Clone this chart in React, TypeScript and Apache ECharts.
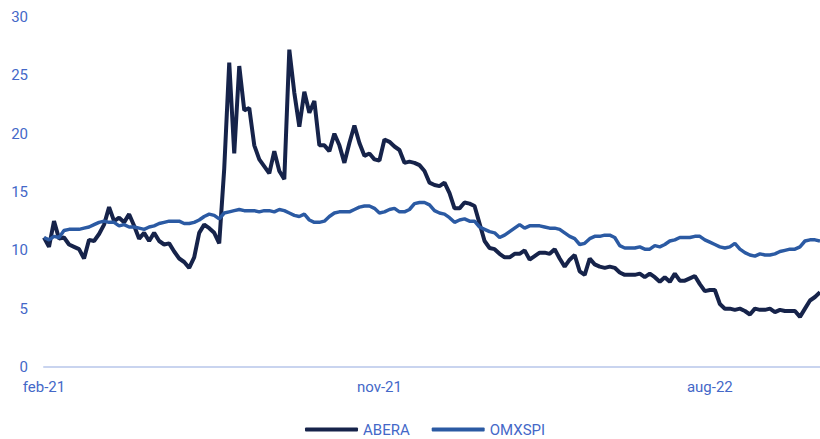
import React, { useEffect, useRef } from "react";
import * as echarts from "echarts";

// Price series sampled every ~4 calendar days from 1 Feb 2021
const ABERA = [
  11.1, 10.3, 12.5, 11.0, 11.1, 10.5, 10.3, 10.1, 9.3, 10.9,
  10.8, 11.4, 12.2, 13.7, 12.5, 12.8, 12.4, 13.1, 12.1, 11.0,
  11.5, 10.8, 11.5, 10.8, 10.5, 10.6, 9.9, 9.3, 9.0, 8.5,
  9.4, 11.5, 12.2, 11.9, 11.5, 10.6, 17.0, 26.1, 18.3, 25.8,
  22.0, 22.2, 19.0, 17.8, 17.2, 16.6, 18.5, 16.8, 16.1, 27.2,
  23.5, 20.6, 23.6, 21.8, 22.8, 19.0, 19.0, 18.5, 20.0, 19.0,
  17.5, 19.2, 20.7, 19.2, 18.1, 18.3, 17.8, 17.7, 19.5, 19.3,
  18.9, 18.6, 17.5, 17.6, 17.5, 17.3, 16.8, 15.8, 15.6, 15.5,
  15.8, 14.9, 13.6, 13.6, 14.1, 14.0, 13.8, 12.3, 10.8, 10.2,
  10.1, 9.7, 9.4, 9.4, 9.7, 9.7, 10.0, 9.2, 9.5, 9.8,
  9.8, 9.7, 10.1, 9.3, 8.6, 9.2, 9.6, 8.2, 7.9, 9.3,
  8.8, 8.6, 8.5, 8.6, 8.5, 8.1, 7.9, 7.9, 7.9, 8.0,
  7.7, 8.0, 7.7, 7.3, 7.7, 7.3, 8.0, 7.4, 7.4, 7.6,
  7.8, 7.1, 6.5, 6.6, 6.6, 5.4, 5.0, 5.0, 4.9, 5.0,
  4.8, 4.5, 5.0, 4.9, 4.9, 5.0, 4.7, 4.9, 4.8, 4.8,
  4.8, 4.3, 5.0, 5.7, 6.0, 6.4,
];

const OMXSPI = [
  11.1, 10.9, 11.2, 11.1, 11.7, 11.8, 11.8, 11.8, 11.9, 12.0,
  12.2, 12.4, 12.5, 12.4, 12.4, 12.1, 12.2, 12.0, 12.0, 11.9,
  11.8, 12.0, 12.1, 12.3, 12.4, 12.5, 12.5, 12.5, 12.3, 12.3,
  12.4, 12.6, 12.9, 13.1, 13.0, 12.7, 13.2, 13.3, 13.4, 13.5,
  13.4, 13.4, 13.4, 13.3, 13.4, 13.4, 13.3, 13.5, 13.4, 13.2,
  13.0, 12.9, 13.1, 12.6, 12.4, 12.4, 12.5, 12.9, 13.2, 13.3,
  13.3, 13.3, 13.5, 13.7, 13.8, 13.8, 13.6, 13.2, 13.3, 13.5,
  13.6, 13.3, 13.3, 13.5, 14.0, 14.1, 14.1, 13.9, 13.4, 13.2,
  13.1, 12.8, 12.4, 12.6, 12.7, 12.5, 12.5, 12.0, 11.8, 11.6,
  11.5, 11.1, 11.3, 11.6, 11.9, 12.2, 11.9, 12.1, 12.1, 12.1,
  12.0, 11.9, 11.9, 11.8, 11.5, 11.2, 11.0, 10.5, 10.6, 11.0,
  11.2, 11.2, 11.3, 11.3, 11.1, 10.4, 10.2, 10.2, 10.2, 10.3,
  10.1, 10.1, 10.4, 10.3, 10.5, 10.8, 10.9, 11.1, 11.1, 11.1,
  11.2, 11.2, 10.9, 10.7, 10.5, 10.3, 10.2, 10.3, 10.6, 10.1,
  9.8, 9.6, 9.5, 9.7, 9.6, 9.6, 9.7, 9.9, 10.0, 10.1,
  10.1, 10.3, 10.8, 10.9, 10.9, 10.8,
];

const SERIES_NAMES = ["ABERA", "OMXSPI"];
const MONTH_NAMES = ["jan", "feb", "mar", "apr", "maj", "jun", "jul", "aug", "sep", "okt", "nov", "dec"];
const LABELED_MONTHS = ["2021-02", "2021-11", "2022-08"];
const START_DATE = Date.UTC(2021, 1, 1);
const STEP_DAYS = 4.12;

const DAY = 86400000;
const dates: string[] = ABERA.map((_, i) =>
  new Date(START_DATE + Math.round(i * STEP_DAYS) * DAY).toISOString().slice(0, 10)
);
const monthKey = (d: string) => d.slice(0, 7);

const TEXT = "#4468c8";
const FONT = "Roboto, 'Noto Sans', sans-serif";

export default function App() {
  const ref = useRef<HTMLDivElement>(null);

  useEffect(() => {
    if (!ref.current) return;
    const chart = echarts.init(ref.current, undefined, { renderer: "svg" });
    chart.setOption({
      animation: false,
      textStyle: { fontFamily: FONT },
      grid: { left: 44, right: 0, top: 17, bottom: 72, containLabel: false },
      legend: {
        data: SERIES_NAMES,
        left: 305,
        top: 422,
        padding: 0,
        icon: "roundRect",
        itemWidth: 53,
        itemHeight: 4,
        itemGap: 22,
        textStyle: { color: TEXT, fontSize: 15, fontFamily: FONT },
      },
      xAxis: {
        type: "category",
        data: dates,
        boundaryGap: false,
        axisLine: { lineStyle: { color: "#c9d4ef", width: 2 } },
        axisTick: { show: false },
        splitLine: { show: false },
        axisLabel: {
          color: TEXT,
          fontSize: 15,
          fontFamily: FONT,
          margin: 12,
          interval: (index: number, value: string) =>
            LABELED_MONTHS.includes(monthKey(value)) &&
            (index === 0 || monthKey(dates[index - 1]) !== monthKey(value)),
          formatter: (value: string) =>
            `${MONTH_NAMES[Number(value.slice(5, 7)) - 1]}-${value.slice(2, 4)}`,
        },
      },
      yAxis: {
        type: "value",
        min: 0,
        max: 30,
        interval: 5,
        axisLine: { show: false },
        axisTick: { show: false },
        splitLine: { show: false },
        axisLabel: { color: TEXT, fontSize: 15, fontFamily: FONT, margin: 16 },
      },
      series: [
        {
          name: SERIES_NAMES[0],
          type: "line",
          data: ABERA,
          symbol: "none",
          color: "#16234a",
          lineStyle: { width: 4, color: "#16234a" },
        },
        {
          name: SERIES_NAMES[1],
          type: "line",
          data: OMXSPI,
          symbol: "none",
          color: "#2b5aa3",
          lineStyle: { width: 3.5, color: "#2b5aa3" },
        },
      ],
    });
    return () => chart.dispose();
  }, []);

  return (
    <div
      ref={ref}
      style={{ position: "fixed", left: 0, top: 0, width: 820, height: 439, background: "#fff" }}
    />
  );
}
